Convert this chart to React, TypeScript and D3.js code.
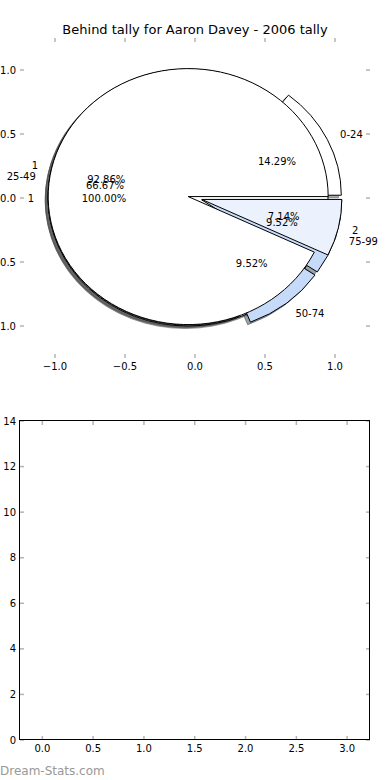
import { useEffect, useRef } from "react"
import * as d3 from "d3"

const chartTitle = "Behind tally for Aaron Davey - 2006 tally"

// three pies drawn on top of each other in the same axes
const tallyLabels = ["1"]
const tallyValues = [1]
const bandLabels = ["0-24", "25-49", "50-74", "75-99"]
const bandValues = [3, 14, 2, 2]
const behindLabels = ["1", "2"]
const behindValues = [13, 1]

const tallyColors = ["#ffffff"]
const bandColors = ["#ffffff", "#ffffff", "#c6dbf9", "#c6dbf9"]
const behindColors = ["#ffffff", "#ebf2fe"]

const pieTicks = [-1, -0.5, 0, 0.5, 1]
const barXTicks = [0, 0.5, 1, 1.5, 2, 2.5, 3]
const barYTicks = [0, 2, 4, 6, 8, 10, 12, 14]

const W = 390
const H = 780
const EXPLODE = 0.05
const LABEL_DIST = 1.1
const PCT_DIST = 0.6
const SHADOW = -0.02
const FONT = "DejaVu Sans, Verdana, sans-serif"
const TICK = "#b4b4b4"

const fmtTick = (v: number) => d3.format(".1f")(v).replace("-", "\u2212")

export default function App() {
  const svgRef = useRef<SVGSVGElement>(null)

  useEffect(() => {
    if (!svgRef.current) return
    const svg = d3.select(svgRef.current)
    svg.selectAll("*").remove()

    svg.append("rect").attr("width", W).attr("height", H).attr("fill", "#fff")

    // ---------- pie axes ----------
    const x = d3.scaleLinear().domain([-1.25, 1.25]).range([20, 370])
    const y = d3.scaleLinear().domain([-1.25, 1.25]).range([358, 38])
    const sx = x(1) - x(0)
    const sy = y(0) - y(1)

    const pies = [
      { labels: tallyLabels, values: tallyValues, colors: tallyColors },
      { labels: bandLabels, values: bandValues, colors: bandColors },
      { labels: behindLabels, values: behindValues, colors: behindColors },
    ]

    // counter-clockwise from 3 o'clock, like matplotlib
    const pieGen = d3
      .pie<number>()
      .sort(null)
      .startAngle(Math.PI / 2)
      .endAngle(Math.PI / 2 - 2 * Math.PI)
    const arc = d3.arc<d3.PieArcDatum<number>>().innerRadius(0).outerRadius(1)

    const wedges = pies.map((p) => {
      const total = d3.sum(p.values)
      return pieGen(p.values).map((d, i) => {
        const mid = (d.startAngle + d.endAngle) / 2
        const ux = Math.sin(mid)
        const uy = Math.cos(mid)
        return {
          d,
          cx: EXPLODE * ux,
          cy: EXPLODE * uy,
          ux,
          uy,
          label: p.labels[i],
          color: p.colors[i],
          pct: (d.value / total) * 100,
        }
      })
    })
    const flat = wedges.flat()

    // shadows go under every wedge
    flat.forEach((w) => {
      const c = d3.rgb(w.color)
      const shade = `rgba(${c.r * 0.3},${c.g * 0.3},${c.b * 0.3},0.5)`
      svg
        .append("path")
        .attr("d", arc(w.d))
        .attr("transform", `translate(${x(w.cx + SHADOW)},${y(w.cy + SHADOW)}) scale(${sx},${sy})`)
        .attr("fill", shade)
        .attr("stroke", shade)
        .attr("stroke-width", 1)
        .attr("vector-effect", "non-scaling-stroke")
    })

    flat.forEach((w) => {
      svg
        .append("path")
        .attr("d", arc(w.d))
        .attr("transform", `translate(${x(w.cx)},${y(w.cy)}) scale(${sx},${sy})`)
        .attr("fill", w.color)
        .attr("stroke", "#000")
        .attr("stroke-width", 1)
        .attr("vector-effect", "non-scaling-stroke")
    })

    flat.forEach((w) => {
      const lx = w.cx + LABEL_DIST * w.ux
      const ly = w.cy + LABEL_DIST * w.uy
      svg
        .append("text")
        .attr("x", x(lx))
        .attr("y", y(ly))
        .attr("text-anchor", lx > 0 ? "start" : "end")
        .attr("dominant-baseline", "central")
        .attr("font-family", FONT)
        .attr("font-size", 10)
        .text(w.label)
      svg
        .append("text")
        .attr("x", x(w.cx + PCT_DIST * w.ux))
        .attr("y", y(w.cy + PCT_DIST * w.uy))
        .attr("text-anchor", "middle")
        .attr("dominant-baseline", "central")
        .attr("font-family", FONT)
        .attr("font-size", 10)
        .text(`${w.pct.toFixed(2)}%`)
    })

    // pie ticks (no spines)
    const pg = svg.append("g").attr("stroke", TICK).attr("stroke-width", 1.5)
    pieTicks.forEach((t) => {
      pg.append("line").attr("x1", x(t)).attr("x2", x(t)).attr("y1", y(1.25)).attr("y2", y(1.25) + 4)
      pg.append("line").attr("x1", x(t)).attr("x2", x(t)).attr("y1", y(-1.25)).attr("y2", y(-1.25) - 4)
      pg.append("line").attr("y1", y(t)).attr("y2", y(t)).attr("x1", x(-1.25)).attr("x2", x(-1.25) + 4)
      pg.append("line").attr("y1", y(t)).attr("y2", y(t)).attr("x1", x(1.25)).attr("x2", x(1.25) - 4)
    })
    pieTicks.forEach((t) => {
      svg
        .append("text")
        .attr("x", x(t))
        .attr("y", y(-1.25) + 4)
        .attr("dy", "0.76em")
        .attr("text-anchor", "middle")
        .attr("font-family", FONT)
        .attr("font-size", 10)
        .text(fmtTick(t))
      svg
        .append("text")
        .attr("x", x(-1.25) - 4)
        .attr("y", y(t))
        .attr("dominant-baseline", "central")
        .attr("text-anchor", "end")
        .attr("font-family", FONT)
        .attr("font-size", 10)
        .text(fmtTick(t))
    })

    svg
      .append("text")
      .attr("x", (x(-1.25) + x(1.25)) / 2)
      .attr("y", 34)
      .attr("text-anchor", "middle")
      .attr("font-family", FONT)
      .attr("font-size", 13)
      .text(chartTitle)

    // ---------- empty lower axes ----------
    const bx = d3.scaleLinear().domain([-0.22, 3.225]).range([20, 370])
    const by = d3.scaleLinear().domain([0, 14]).range([740, 421])

    const bg = svg.append("g").attr("stroke", TICK).attr("stroke-width", 1.5)
    barXTicks.forEach((t) => {
      bg.append("line").attr("x1", bx(t)).attr("x2", bx(t)).attr("y1", by(14)).attr("y2", by(14) + 4)
      bg.append("line").attr("x1", bx(t)).attr("x2", bx(t)).attr("y1", by(0)).attr("y2", by(0) - 4)
    })
    barYTicks.forEach((t) => {
      bg.append("line").attr("y1", by(t)).attr("y2", by(t)).attr("x1", bx(-0.22)).attr("x2", bx(-0.22) + 4)
      bg.append("line").attr("y1", by(t)).attr("y2", by(t)).attr("x1", bx(3.225)).attr("x2", bx(3.225) - 4)
    })

    svg
      .append("rect")
      .attr("x", bx(-0.22) - 0.5)
      .attr("y", by(14) - 0.5)
      .attr("width", bx(3.225) - bx(-0.22))
      .attr("height", by(0) - by(14))
      .attr("fill", "none")
      .attr("stroke", "#000")
      .attr("stroke-width", 1)

    barXTicks.forEach((t) => {
      svg
        .append("text")
        .attr("x", bx(t))
        .attr("y", by(0) + 4)
        .attr("dy", "0.76em")
        .attr("text-anchor", "middle")
        .attr("font-family", FONT)
        .attr("font-size", 10)
        .text(d3.format(".1f")(t))
    })
    barYTicks.forEach((t) => {
      svg
        .append("text")
        .attr("x", bx(-0.22) - 4)
        .attr("y", by(t))
        .attr("dominant-baseline", "central")
        .attr("text-anchor", "end")
        .attr("font-family", FONT)
        .attr("font-size", 10)
        .text(String(t))
    })

    svg
      .append("text")
      .attr("x", 0)
      .attr("y", 775)
      .attr("font-family", FONT)
      .attr("font-size", 12)
      .attr("fill", "#999")
      .text("Dream-Stats.com")
  }, [])

  return (
    <svg
      ref={svgRef}
      width={W}
      height={H}
      style={{ position: "absolute", left: 0, top: 0, display: "block" }}
    />
  )
}
